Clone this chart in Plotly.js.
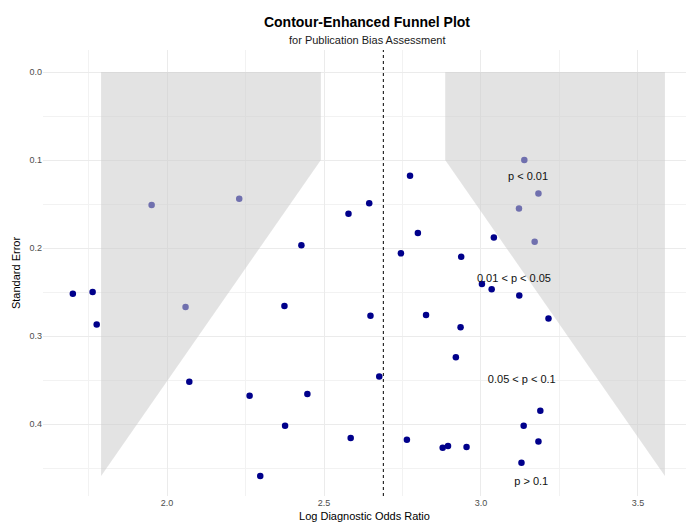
<!DOCTYPE html>
<html>
<head>
<meta charset="utf-8">
<script src="https://cdn.plot.ly/plotly-3.0.1.min.js"></script>
<style>html,body{margin:0;padding:0;background:#fff;}#chart{width:686px;height:522px;}</style>
</head>
<body>
<div id="chart"></div>
<script>
// Study effects (log diagnostic odds ratio) and standard errors
var logDOR = [1.700, 1.763, 1.776, 2.428, 2.374, 2.071, 2.263, 2.447, 2.376, 2.585,
              2.297, 2.774, 2.644, 2.578, 2.799, 2.745, 2.937, 3.041, 3.003, 3.034,
              3.122, 2.648, 2.825, 2.935, 3.215, 2.920, 3.189, 3.136, 3.183, 2.878,
              2.895, 2.954, 3.129, 2.676, 2.764,
              1.951, 2.230, 2.059, 3.138, 3.183, 3.121, 3.171];
var stdErr = [0.252, 0.250, 0.287, 0.197, 0.266, 0.352, 0.368, 0.366, 0.402, 0.416,
              0.459, 0.118, 0.149, 0.161, 0.183, 0.206, 0.210, 0.188, 0.241, 0.247,
              0.254, 0.277, 0.276, 0.290, 0.280, 0.324, 0.385, 0.402, 0.420, 0.427,
              0.425, 0.426, 0.444, 0.346, 0.418,
              0.151, 0.144, 0.267, 0.100, 0.138, 0.155, 0.193];

// Pooled estimate
var pooled = 2.689;

// Contour regions (significance areas)
var leftRegionX = [1.79, 2.49, 2.49, 1.79, 1.79];
var leftRegionY = [0.0, 0.0, 0.1, 0.459, 0.0];
var rightRegionX = [2.886, 3.586, 3.586, 2.886, 2.886];
var rightRegionY = [0.0, 0.0, 0.459, 0.1, 0.0];

// Contour labels
var labelText = ["p < 0.01", "0.01 < p < 0.05", "0.05 < p < 0.1", "p > 0.1"];
var labelX = [3.150, 3.105, 3.130, 3.160];
var labelY = [0.120, 0.235, 0.350, 0.466];

var xTicks = [2.0, 2.5, 3.0, 3.5];
var yTicks = [0.0, 0.1, 0.2, 0.3, 0.4];

var traces = [
  {
    type: 'scatter', mode: 'markers', x: logDOR, y: stdErr,
    marker: {color: '#00008B', size: 6.5}, showlegend: false, hoverinfo: 'x+y'
  },
  {
    type: 'scatter', mode: 'lines', x: leftRegionX, y: leftRegionY, fill: 'toself',
    fillcolor: 'rgba(204,204,204,0.55)', line: {width: 0}, showlegend: false, hoverinfo: 'skip'
  },
  {
    type: 'scatter', mode: 'lines', x: rightRegionX, y: rightRegionY, fill: 'toself',
    fillcolor: 'rgba(204,204,204,0.55)', line: {width: 0}, showlegend: false, hoverinfo: 'skip'
  },
  {
    type: 'scatter', mode: 'text', x: labelX, y: labelY, text: labelText,
    textfont: {family: 'Liberation Sans, Arial, sans-serif', size: 11, color: '#111111'},
    textposition: 'middle center', showlegend: false, hoverinfo: 'skip'
  }
];

var layout = {
  width: 686, height: 522,
  margin: {l: 43, r: 0, t: 50, b: 26},
  paper_bgcolor: '#ffffff', plot_bgcolor: '#ffffff',
  font: {family: 'Liberation Sans, Arial, sans-serif', color: '#4D4D4D'},
  title: {
    text: '<b>Contour-Enhanced Funnel Plot</b>',
    font: {size: 14, color: '#000000', family: 'Liberation Sans, Arial, sans-serif'},
    x: 367 / 686, xref: 'container', xanchor: 'center',
    y: 1 - 22 / 522, yref: 'container', yanchor: 'middle'
  },
  annotations: [{
    text: 'for Publication Bias Assessment', xref: 'paper', yref: 'paper',
    x: (367 - 43) / 643, y: (496 - 40) / 446, xanchor: 'center', yanchor: 'middle',
    showarrow: false, font: {size: 11, color: '#1a1a1a'}
  }],
  shapes: [{
    type: 'line', xref: 'x', yref: 'paper', x0: pooled, x1: pooled, y0: 0, y1: 1,
    line: {color: '#000000', width: 1, dash: '3px,3px'}, layer: 'above'
  }],
  xaxis: {
    range: [1.605, 3.653], tickmode: 'array', tickvals: xTicks,
    ticktext: xTicks.map(function (v) { return v.toFixed(1); }),
    showgrid: true, gridcolor: '#EBEBEB', gridwidth: 1, zeroline: false, showline: false,
    ticks: '', tickfont: {size: 9, color: '#4D4D4D'},
    minor: {tickmode: 'linear', tick0: 1.75, dtick: 0.5, showgrid: true, gridcolor: '#F2F2F2', gridwidth: 1},
    title: {text: 'Log Diagnostic Odds Ratio', font: {size: 11, color: '#000000'}, standoff: 6},
    automargin: false
  },
  yaxis: {
    range: [0.4818, -0.025], tickmode: 'array', tickvals: yTicks,
    ticktext: yTicks.map(function (v) { return v.toFixed(1); }),
    showgrid: true, gridcolor: '#EBEBEB', gridwidth: 1, zeroline: false, showline: false,
    ticks: '', tickfont: {size: 9, color: '#4D4D4D'},
    minor: {tickmode: 'linear', tick0: 0.05, dtick: 0.1, showgrid: true, gridcolor: '#F2F2F2', gridwidth: 1},
    title: {text: 'Standard Error', font: {size: 11, color: '#000000'}, standoff: 6},
    automargin: false
  }
};

Plotly.newPlot('chart', traces, layout, {displayModeBar: false, responsive: false});
</script>
</body>
</html>
